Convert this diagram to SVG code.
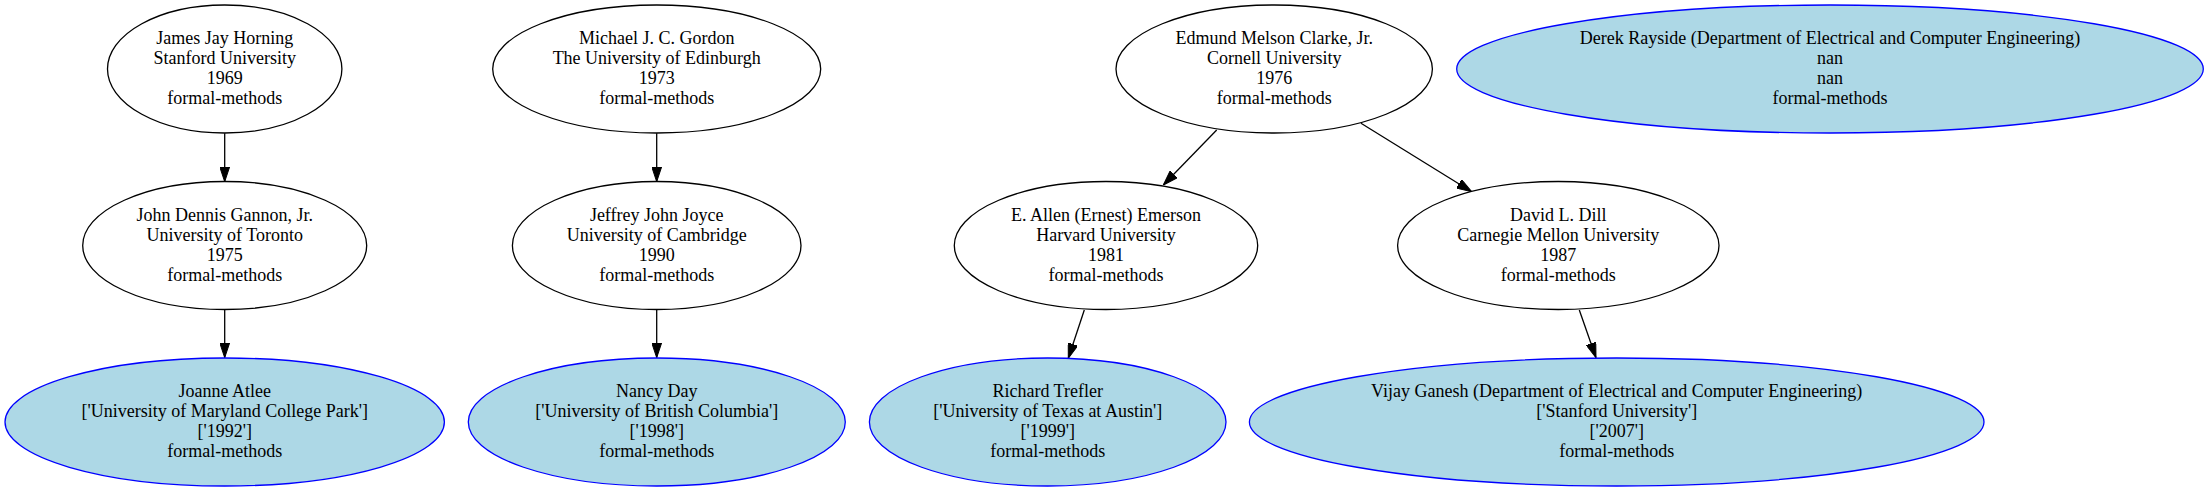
<svg xmlns="http://www.w3.org/2000/svg" width="2209" height="491" viewBox="0 0 2209 491">
<style>
  .n ellipse { fill: #ffffff; stroke: #000000; stroke-width: 1.3; }
  .leaf ellipse { fill: #add8e6; stroke: #0000ff; stroke-width: 1.3; }
  text { font-family: "Liberation Serif", "Times New Roman", serif; font-size: 18px; text-anchor: middle; fill: #000000; }
  .edges path { fill: none; stroke: #000000; stroke-width: 1.3; marker-end: url(#arrow); }
</style>
<defs>
  <marker id="arrow" viewBox="0 0 15 10" refX="15" refY="5" markerWidth="15" markerHeight="10" markerUnits="userSpaceOnUse" orient="auto">
    <path d="M0,0 L15,5 L0,10 Z" fill="#000000" stroke="#000000" stroke-width="1"/>
  </marker>
</defs>
<rect x="0" y="0" width="2209" height="491" fill="#ffffff"/>

<g class="edges" id="edges">
  <path d="M224.7,133.3 L224.7,181.7"/>
  <path d="M224.7,309.3 L224.7,357.7"/>
  <path d="M656.7,133.3 L656.7,181.7"/>
  <path d="M656.7,309.3 L656.7,357.7"/>
  <path d="M1216.7,130 L1163.3,185"/>
  <path d="M1361,123.3 L1471.7,191.7"/>
  <path d="M1084.3,310 L1068.3,358.3"/>
  <path d="M1579.3,310 L1596,357.7"/>
</g>

<g class="n" id="horning">
  <ellipse cx="224.7" cy="69" rx="117.2" ry="64"/>
  <text x="224.7" y="44">James Jay Horning</text>
  <text x="224.7" y="64">Stanford University</text>
  <text x="224.7" y="84">1969</text>
  <text x="224.7" y="104">formal-methods</text>
</g>
<g class="n" id="gannon">
  <ellipse cx="224.7" cy="245.5" rx="142" ry="64"/>
  <text x="224.7" y="220.5">John Dennis Gannon, Jr.</text>
  <text x="224.7" y="240.5">University of Toronto</text>
  <text x="224.7" y="260.5">1975</text>
  <text x="224.7" y="280.5">formal-methods</text>
</g>
<g class="leaf" id="atlee">
  <ellipse cx="224.7" cy="422" rx="219.7" ry="64"/>
  <text x="224.7" y="397">Joanne Atlee</text>
  <text x="224.7" y="417">['University of Maryland College Park']</text>
  <text x="224.7" y="437">['1992']</text>
  <text x="224.7" y="457">formal-methods</text>
</g>

<g class="n" id="gordon">
  <ellipse cx="656.7" cy="69" rx="164" ry="64"/>
  <text x="656.7" y="44">Michael J. C. Gordon</text>
  <text x="656.7" y="64">The University of Edinburgh</text>
  <text x="656.7" y="84">1973</text>
  <text x="656.7" y="104">formal-methods</text>
</g>
<g class="n" id="joyce">
  <ellipse cx="656.7" cy="245.5" rx="144.3" ry="64"/>
  <text x="656.7" y="220.5">Jeffrey John Joyce</text>
  <text x="656.7" y="240.5">University of Cambridge</text>
  <text x="656.7" y="260.5">1990</text>
  <text x="656.7" y="280.5">formal-methods</text>
</g>
<g class="leaf" id="day">
  <ellipse cx="656.8" cy="422" rx="188.5" ry="64"/>
  <text x="656.8" y="397">Nancy Day</text>
  <text x="656.8" y="417">['University of British Columbia']</text>
  <text x="656.8" y="437">['1998']</text>
  <text x="656.8" y="457">formal-methods</text>
</g>

<g class="n" id="clarke">
  <ellipse cx="1274.2" cy="69" rx="158.2" ry="64"/>
  <text x="1274.2" y="44">Edmund Melson Clarke, Jr.</text>
  <text x="1274.2" y="64">Cornell University</text>
  <text x="1274.2" y="84">1976</text>
  <text x="1274.2" y="104">formal-methods</text>
</g>
<g class="n" id="emerson">
  <ellipse cx="1106" cy="245.5" rx="151.7" ry="64"/>
  <text x="1106" y="220.5">E. Allen (Ernest) Emerson</text>
  <text x="1106" y="240.5">Harvard University</text>
  <text x="1106" y="260.5">1981</text>
  <text x="1106" y="280.5">formal-methods</text>
</g>
<g class="n" id="dill">
  <ellipse cx="1558.3" cy="245.5" rx="160.7" ry="64"/>
  <text x="1558.3" y="220.5">David L. Dill</text>
  <text x="1558.3" y="240.5">Carnegie Mellon University</text>
  <text x="1558.3" y="260.5">1987</text>
  <text x="1558.3" y="280.5">formal-methods</text>
</g>
<g class="leaf" id="trefler">
  <ellipse cx="1047.7" cy="422" rx="178.3" ry="64"/>
  <text x="1047.7" y="397">Richard Trefler</text>
  <text x="1047.7" y="417">['University of Texas at Austin']</text>
  <text x="1047.7" y="437">['1999']</text>
  <text x="1047.7" y="457">formal-methods</text>
</g>
<g class="leaf" id="ganesh">
  <ellipse cx="1616.7" cy="422" rx="367.3" ry="64"/>
  <text x="1616.7" y="397">Vijay Ganesh (Department of Electrical and Computer Engineering)</text>
  <text x="1616.7" y="417">['Stanford University']</text>
  <text x="1616.7" y="437">['2007']</text>
  <text x="1616.7" y="457">formal-methods</text>
</g>
<g class="leaf" id="rayside">
  <ellipse cx="1830" cy="69" rx="373.3" ry="64"/>
  <text x="1830" y="44">Derek Rayside (Department of Electrical and Computer Engineering)</text>
  <text x="1830" y="64">nan</text>
  <text x="1830" y="84">nan</text>
  <text x="1830" y="104">formal-methods</text>
</g>
</svg>
